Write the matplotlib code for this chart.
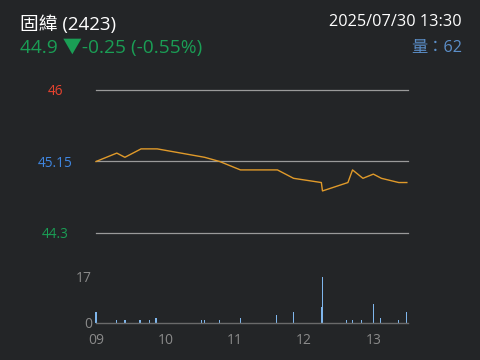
import matplotlib
matplotlib.use("Agg")
import matplotlib.pyplot as plt

plt.rcParams['font.family'] = ['Open Sans', 'Noto Sans CJK TC', 'DejaVu Sans']

# minutes after 09:00 and price
price_min = [0, 18, 25, 39, 53, 94, 107, 125, 157, 171, 195, 196, 218, 222, 231, 240, 247, 262, 269]
price_val = [45.15, 45.25, 45.20, 45.30, 45.30, 45.20, 45.15, 45.05, 45.05, 44.95,
             44.90, 44.80, 44.90, 45.05, 44.95, 45.00, 44.95, 44.90, 44.90]

vol_min = [0, 18, 25, 38, 46, 52, 91, 94, 107, 125, 156, 171, 195, 196,
           217, 222, 230, 240, 246, 262, 269]
vol_val = [4, 1, 1, 1, 1, 2, 1, 1, 1, 2, 3, 4, 6, 17, 1, 1, 1, 7, 2, 1, 4]

ref_close = 45.15
price_levels = [46, 45.15, 44.3]
level_labels = ['46', '45.15', '44.3']
level_colors = ['#e8432f', '#3f86e0', '#1a9e55']
hour_ticks = [0, 60, 120, 180, 240]
hour_labels = ['09', '10', '11', '12', '13']

bg = '#232527'
fig = plt.figure(figsize=(4.8, 3.6), dpi=100, facecolor=bg)

# price panel
ax = fig.add_axes([96 / 480, 1 - 233 / 360, 312 / 480, 143 / 360], facecolor=bg)
for lv in price_levels:
    ax.axhline(lv, color='#9a9a9a', lw=0.9, zorder=1, clip_on=False)
ax.plot(price_min, price_val, color='#e09a2a', lw=1.0, zorder=2, clip_on=False)
ax.set_xlim(0, 270)
ax.set_ylim(44.3, 46)
ax.set_xticks([])
ax.set_yticks(price_levels)
ax.set_yticklabels(level_labels)
ax.tick_params(axis='y', length=0, pad=29.5, labelsize=9.8)
for lab, c in zip(ax.get_yticklabels(), level_colors):
    lab.set_color(c)
    lab.set_horizontalalignment('center')
for s in ax.spines.values():
    s.set_visible(False)

# volume panel
vx = fig.add_axes([96 / 480, 1 - 323 / 360, 312 / 480, 46 / 360], facecolor=bg)
vx.bar(vol_min, vol_val, width=1.1, color='#7fb6ec', linewidth=0, clip_on=False)
vx.set_xlim(0, 270)
vx.set_ylim(0, 17)
vx.set_yticks([0, 17])
vx.set_xticks(hour_ticks)
vx.set_xticklabels(hour_labels)
vx.tick_params(axis='both', length=0, colors='#8a8a8a', labelsize=10)
vx.tick_params(axis='x', pad=7)
vx.tick_params(axis='y', pad=3)
for s in ['top', 'right', 'left']:
    vx.spines[s].set_visible(False)
vx.spines['bottom'].set_color('#6a6a6a')
vx.spines['bottom'].set_linewidth(1.0)

# header texts
fig.text(20 / 480, 1 - 25 / 360, '固緯 (2423)', color='white', fontsize=13.5, va='center', ha='left')
fig.text(20 / 480, 1 - 48 / 360, '44.9 ▼-0.25 (-0.55%)', color='#1a9e55', fontsize=13.8,
         va='center', ha='left')
fig.text(462 / 480, 1 - 22 / 360, '2025/07/30 13:30', color='white', fontsize=11.7,
         va='center', ha='right')
fig.text(462 / 480, 1 - 48 / 360, '量：62', color='#5b8ec8', fontsize=11.7, va='center', ha='right')

fig.savefig('out.png', dpi=100, facecolor=bg)
